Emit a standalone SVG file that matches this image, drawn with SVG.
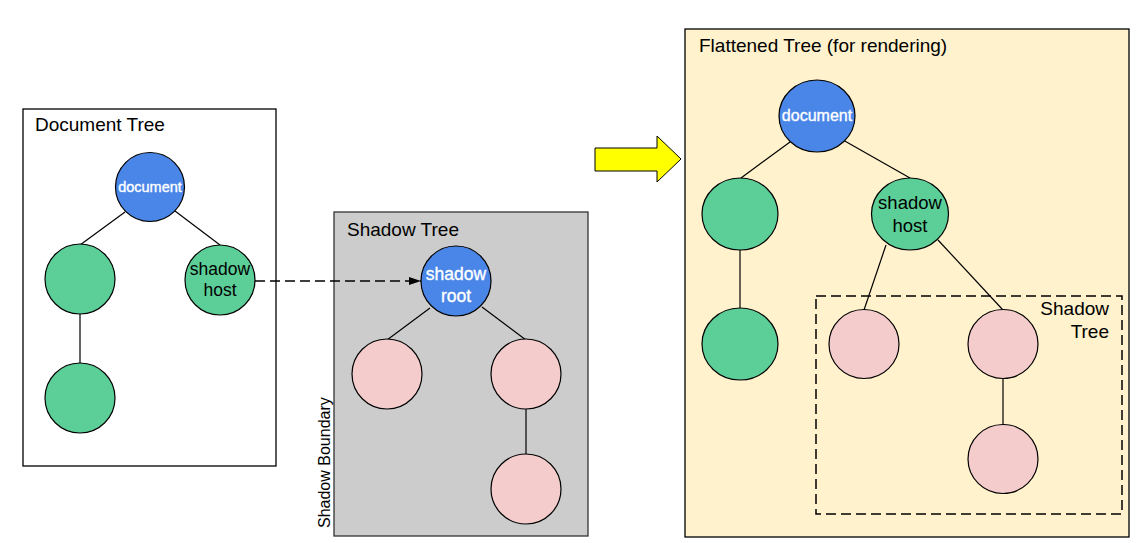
<svg xmlns="http://www.w3.org/2000/svg" width="1138" height="543" viewBox="0 0 1138 543">
<style>
text{font-family:"Liberation Sans",Arial,Helvetica,sans-serif;}
.title{font-size:19px;fill:#000;}
.blue{fill:#4a86e8;stroke:#000;stroke-width:1.2;}
.green{fill:#5ccf98;stroke:#000;stroke-width:1.2;}
.pink{fill:#f4cccc;stroke:#000;stroke-width:1.2;}
.edge{stroke:#000;stroke-width:1.2;fill:none;}
.dash{stroke:#000;stroke-width:1.5;fill:none;stroke-dasharray:10,5;}
.wt{fill:#fff;stroke:#fff;stroke-width:0.35;text-anchor:middle;}
.bt{fill:#000;text-anchor:middle;}
</style>
<defs>
<marker id="ah" markerWidth="12" markerHeight="8" refX="12" refY="4" orient="auto" markerUnits="userSpaceOnUse">
<path d="M0,0 L12,4 L0,8 Z" fill="#000"/>
</marker>
</defs>
<rect width="1138" height="543" fill="#fff"/>

<g id="document-tree-box">
<rect x="23" y="109" width="253" height="357" fill="#fff" stroke="#000" stroke-width="1.3"/>
<text class="title" x="35" y="131">Document Tree</text>
</g>
<g id="shadow-tree-box">
<rect x="334" y="212" width="254" height="324" fill="#cccccc" stroke="#333" stroke-width="1.3"/>
<text class="title" x="347" y="236">Shadow Tree</text>
<text x="330" y="528" transform="rotate(-90 330 528)" font-size="16">Shadow Boundary</text>
</g>
<g id="flattened-tree-box">
<rect x="685" y="29" width="444" height="508" fill="#fff2cc" stroke="#000" stroke-width="1.3"/>
<text class="title" x="699" y="52">Flattened Tree (for rendering)</text>
</g>
<g id="flattened-shadow-tree-box">
<rect x="816" y="296" width="306" height="218" class="dash"/>
<text class="title" x="1109" y="315" text-anchor="end">Shadow</text>
<text class="title" x="1109" y="338" text-anchor="end">Tree</text>
</g>

<g id="connectors">
<line class="edge" x1="125" y1="212" x2="80" y2="245"/>
<line class="edge" x1="175" y1="211" x2="220" y2="245"/>
<line class="edge" x1="80" y1="314" x2="80" y2="364"/>
<line class="dash" x1="255" y1="281" x2="421" y2="281" stroke-width="1.3" marker-end="url(#ah)"/>
<line class="edge" x1="430" y1="308" x2="387" y2="340"/>
<line class="edge" x1="482" y1="307" x2="526" y2="340"/>
<line class="edge" x1="526" y1="409" x2="526" y2="455"/>
<line class="edge" x1="790" y1="142" x2="741" y2="178"/>
<line class="edge" x1="843" y1="140" x2="910" y2="178"/>
<line class="edge" x1="740" y1="250" x2="740" y2="308"/>
<line class="edge" x1="886" y1="245" x2="864" y2="310"/>
<line class="edge" x1="938" y1="240" x2="1003" y2="310"/>
<line class="edge" x1="1003" y1="379" x2="1003" y2="424"/>
</g>

<g id="yellow-arrow">
<polygon points="595,148 657,148 657,136 681,159 657,182 657,171 595,171" fill="#ffff00" stroke="#000" stroke-width="1"/>
</g>

<g id="doc-document">
<circle class="blue" cx="150" cy="187" r="34.5"/>
<text class="wt" x="150" y="192" font-size="14.5">document</text>
</g>
<g id="doc-child-left">
<circle class="green" cx="80" cy="279" r="35"/>
</g>
<g id="doc-shadow-host">
<circle class="green" cx="220" cy="280" r="35"/>
<text class="bt" x="220" y="275" font-size="17.5">shadow</text>
<text class="bt" x="220" y="296" font-size="17.5">host</text>
</g>
<g id="doc-grandchild">
<circle class="green" cx="80" cy="398" r="35"/>
</g>

<g id="shadow-root">
<circle class="blue" cx="456" cy="281" r="35"/>
<text class="wt" x="456" y="280" font-size="17.5">shadow</text>
<text class="wt" x="456" y="302" font-size="17.5">root</text>
</g>
<g id="shadow-child-left">
<circle class="pink" cx="387" cy="374" r="35"/>
</g>
<g id="shadow-child-right">
<circle class="pink" cx="526" cy="374" r="35"/>
</g>
<g id="shadow-grandchild">
<circle class="pink" cx="526" cy="489" r="35"/>
</g>

<g id="flat-document">
<ellipse class="blue" cx="817" cy="116" rx="38" ry="36"/>
<text class="wt" x="817" y="121" font-size="16">document</text>
</g>
<g id="flat-child-left">
<ellipse class="green" cx="740" cy="214" rx="38" ry="36"/>
</g>
<g id="flat-shadow-host">
<ellipse class="green" cx="910" cy="214" rx="38.5" ry="36"/>
<text class="bt" x="910" y="209" font-size="18.5">shadow</text>
<text class="bt" x="910" y="232" font-size="18.5">host</text>
</g>
<g id="flat-grandchild">
<ellipse class="green" cx="740" cy="344" rx="38" ry="36"/>
</g>
<g id="flat-shadow-left">
<ellipse class="pink" cx="864" cy="344" rx="35" ry="34.5"/>
</g>
<g id="flat-shadow-right">
<ellipse class="pink" cx="1003" cy="344" rx="35" ry="34.5"/>
</g>
<g id="flat-shadow-bottom">
<ellipse class="pink" cx="1003" cy="459" rx="35" ry="34.5"/>
</g>
</svg>
